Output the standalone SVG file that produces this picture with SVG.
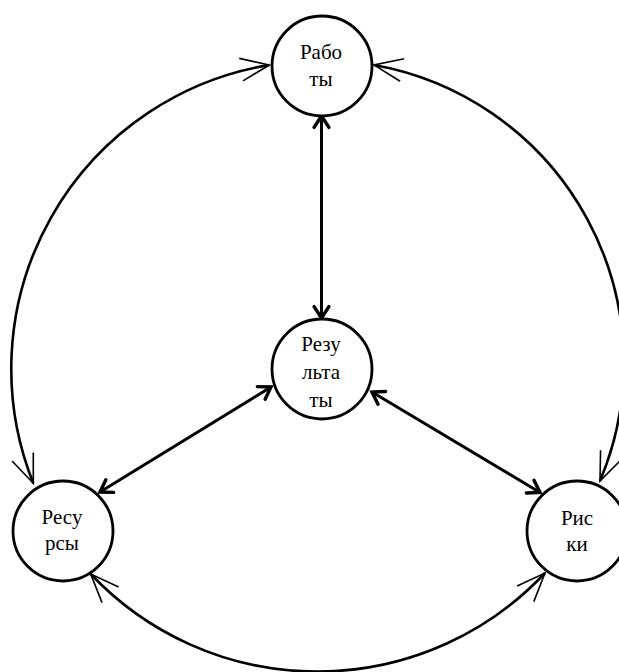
<svg xmlns="http://www.w3.org/2000/svg" width="619" height="672" viewBox="0 0 619 672">
<style>
.node{fill:#fff;stroke:#000;stroke-width:2.8}
.lbl{font-family:"Liberation Serif","DejaVu Serif","Times New Roman",serif;font-size:21px;fill:#000;text-anchor:middle}
.thick{fill:none;stroke:#000;stroke-width:3}
.arc{fill:none;stroke:#000;stroke-width:2.6}
</style>
<defs>
<marker id="ah" markerUnits="userSpaceOnUse" markerWidth="40" markerHeight="40" viewBox="-30 -15 35 30" refX="0" refY="0" orient="auto-start-reverse" overflow="visible">
<path d="M -10 -6.5 L 0 0 L -10 6.5" fill="none" stroke="#000" stroke-width="3" stroke-linecap="round"/>
</marker>
<marker id="th" markerUnits="userSpaceOnUse" markerWidth="40" markerHeight="40" viewBox="-30 -15 35 30" refX="0" refY="0" orient="auto-start-reverse" overflow="visible">
<path d="M -25 -10 L 0 0 L -25 10" fill="none" stroke="#000" stroke-width="1.4"/>
</marker>
</defs>
<g id="connectors">
<line class="thick" x1="321.5" y1="116" x2="321.5" y2="318" marker-start="url(#ah)" marker-end="url(#ah)"/>
<line class="thick" x1="271" y1="387" x2="100" y2="492" marker-start="url(#ah)" marker-end="url(#ah)"/>
<line class="thick" x1="372" y1="392" x2="540" y2="492.5" marker-start="url(#ah)" marker-end="url(#ah)"/>
<path class="arc" d="M 33.3 483.3 A 308 308 0 0 1 269.3 65" marker-start="url(#th)" marker-end="url(#th)"/>
<path class="arc" d="M 374 65 A 303 303 0 0 1 600 481" marker-start="url(#th)" marker-end="url(#th)"/>
<path class="arc" d="M 545 573 A 312 312 0 0 1 90.7 574" marker-start="url(#th)" marker-end="url(#th)"/>
</g>
<g id="raboty">
<circle class="node" cx="322" cy="66" r="50"/>
<text class="lbl" x="321" y="59">Рабо</text>
<text class="lbl" x="321" y="86">ты</text>
</g>
<g id="rezultaty">
<circle class="node" cx="322" cy="369" r="50"/>
<text class="lbl" x="321" y="351">Резу</text>
<text class="lbl" x="321" y="379">льта</text>
<text class="lbl" x="321" y="407">ты</text>
</g>
<g id="resursy">
<circle class="node" cx="63" cy="531" r="50"/>
<text class="lbl" x="62" y="524">Ресу</text>
<text class="lbl" x="62" y="550">рсы</text>
</g>
<g id="riski">
<circle class="node" cx="577" cy="531" r="50"/>
<text class="lbl" x="577" y="525">Рис</text>
<text class="lbl" x="577" y="551">ки</text>
</g>
</svg>
